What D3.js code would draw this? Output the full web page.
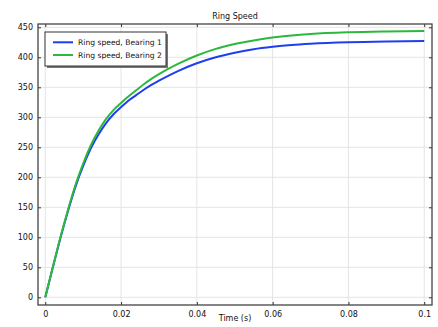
<!DOCTYPE html>
<html>
<head>
<meta charset="utf-8">
<script src="https://cdn.jsdelivr.net/npm/d3@7"></script>
<style>
  html, body { margin: 0; padding: 0; background: #fff; }
  svg text { font-family: "DejaVu Sans", sans-serif; fill: #111; }
</style>
</head>
<body>
<svg id="chart" width="438" height="327"></svg>
<script>
// ── Data ─────────────────────────────────────────────────────────────────────
const timeS = [0, 0.002, 0.004, 0.006, 0.008, 0.010, 0.012, 0.014, 0.016, 0.018,
               0.020, 0.022, 0.024, 0.026, 0.028, 0.030, 0.035, 0.040, 0.045,
               0.050, 0.055, 0.060, 0.065, 0.070, 0.080, 0.090, 0.100];
const bearing1 = [0, 50, 99, 144, 185, 219, 248, 271, 290, 305,
                  317, 328, 337, 346, 354, 361, 377, 390, 400,
                  407.5, 413.5, 417.5, 420.5, 422.5, 425, 426.3, 427];
const bearing2 = [0, 50, 100, 146, 188, 223, 253, 277, 297, 312,
                  324, 335, 345, 355, 364, 372, 389, 403, 414,
                  422, 428, 433, 436.5, 439, 441.8, 443.2, 444];
const seriesNames = ['Ring speed, Bearing 1', 'Ring speed, Bearing 2'];
const xTicks = [0, 0.02, 0.04, 0.06, 0.08, 0.1];
const yTicks = [0, 50, 100, 150, 200, 250, 300, 350, 400, 450];

// ── Layout ───────────────────────────────────────────────────────────────────
const M = { left: 38, right: 432, top: 24, bottom: 305 };
const colors = ['#1f3fef', '#2db83d'];

const svg = d3.select('#chart');

const x = d3.scaleLinear().domain([-0.00192, 0.10205]).range([M.left, M.right]);
const y = d3.scaleLinear().domain([-12.8, 455.5]).range([M.bottom, M.top]);

// Grid
const grid = svg.append('g');
grid.selectAll('.gx').data(xTicks).enter().append('line')
  .attr('x1', d => x(d)).attr('x2', d => x(d))
  .attr('y1', M.top).attr('y2', M.bottom)
  .attr('stroke', '#e4e4e4').attr('stroke-width', 1);
grid.selectAll('.gy').data(yTicks).enter().append('line')
  .attr('x1', M.left).attr('x2', M.right)
  .attr('y1', d => y(d)).attr('y2', d => y(d))
  .attr('stroke', '#e4e4e4').attr('stroke-width', 1);

// Curves
const line = d3.line().x(d => x(d[0])).y(d => y(d[1])).curve(d3.curveMonotoneX);
[bearing1, bearing2].forEach((vals, i) => {
  svg.append('path')
    .datum(timeS.map((t, k) => [t, vals[k]]))
    .attr('fill', 'none')
    .attr('stroke', colors[i])
    .attr('stroke-width', 2)
    .attr('d', line);
});

// Axes (ticks inward on all four sides)
const tickLen = 3;
const fmtX = d => d === 0 ? '0' : String(+d.toFixed(2));

const axB = svg.append('g').attr('transform', `translate(0,${M.bottom})`)
  .call(d3.axisBottom(x).tickValues(xTicks).tickSize(-tickLen).tickPadding(6).tickFormat(fmtX));
const axT = svg.append('g').attr('transform', `translate(0,${M.top})`)
  .call(d3.axisTop(x).tickValues(xTicks).tickSize(-tickLen).tickFormat(''));
const axL = svg.append('g').attr('transform', `translate(${M.left},0)`)
  .call(d3.axisLeft(y).tickValues(yTicks).tickSizeInner(-tickLen).tickSizeOuter(0).tickPadding(5));
const axR = svg.append('g').attr('transform', `translate(${M.right},0)`)
  .call(d3.axisRight(y).tickValues(yTicks).tickSizeInner(-tickLen).tickSizeOuter(0).tickFormat(''));

[axB, axT, axL, axR].forEach(a => {
  a.select('.domain').remove();
  a.selectAll('.tick line').attr('stroke', '#333').attr('stroke-width', 1);
  a.selectAll('.tick text').attr('font-size', 8).attr('fill', '#111')
    .style('font-family', '"DejaVu Sans", sans-serif');
});

// Frame
svg.append('rect')
  .attr('x', M.left).attr('y', M.top)
  .attr('width', M.right - M.left).attr('height', M.bottom - M.top)
  .attr('fill', 'none').attr('stroke', '#444').attr('stroke-width', 1.3);

// Title and x label
svg.append('text').attr('x', (M.left + M.right) / 2).attr('y', 19)
  .attr('text-anchor', 'middle').attr('font-size', 8).text('Ring Speed');
svg.append('text').attr('x', (M.left + M.right) / 2).attr('y', 321)
  .attr('text-anchor', 'middle').attr('font-size', 8).text('Time (s)');

// Legend
const lg = svg.append('g').attr('transform', 'translate(45,32)');
const lgW = 121, lgH = 34;
lg.append('rect').attr('x', 2).attr('y', 2).attr('width', lgW).attr('height', lgH)
  .attr('fill', '#777');
lg.append('rect').attr('x', 0).attr('y', 0).attr('width', lgW).attr('height', lgH)
  .attr('fill', '#fff').attr('stroke', '#333').attr('stroke-width', 1);
seriesNames.forEach((name, i) => {
  const cy = 10.3 + i * 12.7;
  lg.append('line').attr('x1', 8).attr('x2', 28).attr('y1', cy).attr('y2', cy)
    .attr('stroke', colors[i]).attr('stroke-width', 2);
  lg.append('text').attr('x', 33).attr('y', cy + 3).attr('font-size', 7.6).text(name);
});
</script>
</body>
</html>
